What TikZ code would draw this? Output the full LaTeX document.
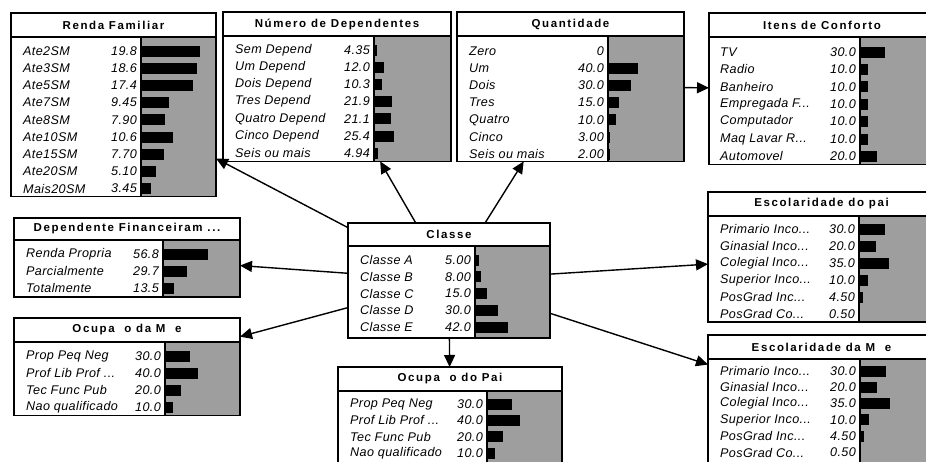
\documentclass[tikz,border=0pt]{standalone}
\usepackage{fontspec}
\setmainfont{Liberation Sans}
\newfontfamily\titlefont[LetterSpace=14]{Liberation Sans}
\newfontfamily\rowfont[LetterSpace=3]{Liberation Sans}
\usetikzlibrary{arrows.meta}

\begin{document}
\begin{tikzpicture}[x=1pt,y=-1pt,>={Triangle[length=12pt,width=11pt]},
  netbox/.style={draw,line width=1.3pt,anchor=north west,inner sep=0pt,outer sep=0pt},
  netline/.style={line width=1.3pt},
  nettitle/.style={font=\titlefont\bfseries\fontsize{11.5}{13}\selectfont,inner sep=0pt},
  rowlab/.style={anchor=west,font=\rowfont\itshape\fontsize{12.6}{15}\selectfont,inner sep=0pt},
  rowval/.style={anchor=east,font=\rowfont\itshape\fontsize{12.6}{15}\selectfont,inner sep=0pt},
  bararea/.style={fill=black!38},
  probbar/.style={fill=black},
  netarrow/.style={->,line width=1.4pt}]
\useasboundingbox (0,0) rectangle (926,461);
\clip (0,0) rectangle (926,461);

% Renda Familiar
\fill[bararea] (141,37) rectangle (216,196.8);
\foreach \lab/\val [count=\i from 0] in {Ate2SM/19.8,Ate3SM/18.6,Ate5SM/17.4,Ate7SM/9.45,Ate8SM/7.90,Ate10SM/10.6,Ate15SM/7.70,Ate20SM/5.10,Mais20SM/3.45}{
  \node[rowlab] (renda-l\i) at (23,{51+17.2*\i}) {\lab};
  \node[rowval] (renda-v\i) at (137,{51+17.2*\i}) {\val};
  \fill[probbar] (141,{45.5+17.2*\i}) rectangle ({141+3*\val},{56.5+17.2*\i});
}
\node[netbox,minimum width=205pt,minimum height=183.8pt] (renda) at (11,13) {};
\draw[netline] (11,37) -- (216,37) (141,37) -- (141,196.8);
\node[nettitle] (renda-t) at (113.5,25) {Renda Familiar};

% Numero de Dependentes
\fill[bararea] (374,36) rectangle (451,161.4);
\foreach \lab/\val [count=\i from 0] in {Sem Depend/4.35,Um Depend/12.0,Dois Depend/10.3,Tres Depend/21.9,Quatro Depend/21.1,Cinco Depend/25.4,Seis ou mais/4.94}{
  \node[rowlab] (numdep-l\i) at (235,{50+17.2*\i}) {\lab};
  \node[rowval] (numdep-v\i) at (370,{50+17.2*\i}) {\val};
  \fill[probbar] (374,{44.5+17.2*\i}) rectangle ({374+0.8*\val},{55.5+17.2*\i});
}
\node[netbox,minimum width=228pt,minimum height=149.4pt] (numdep) at (223,12) {};
\draw[netline] (223,36) -- (451,36) (374,36) -- (374,161.4);
\node[nettitle] (numdep-t) at (337,24) {Número de Dependentes};

% Quantidade
\fill[bararea] (608,36) rectangle (684,161.4);
\foreach \lab/\val [count=\i from 0] in {Zero/0,Um/40.0,Dois/30.0,Tres/15.0,Quatro/10.0,Cinco/3.00,Seis ou mais/2.00}{
  \node[rowlab] (quant-l\i) at (469,{51+17.2*\i}) {\lab};
  \node[rowval] (quant-v\i) at (604,{51+17.2*\i}) {\val};
  \fill[probbar] (608,{45.5+17.2*\i}) rectangle ({608+0.75*\val},{56.5+17.2*\i});
}
\node[netbox,minimum width=227pt,minimum height=149.4pt] (quant) at (457,12) {};
\draw[netline] (457,36) -- (684,36) (608,36) -- (608,161.4);
\node[nettitle] (quant-t) at (570.5,24) {Quantidade};

% Itens de Conforto
\fill[bararea] (860,37) rectangle (935,164.5);
\foreach \lab/\val [count=\i from 0] in {TV/30.0,Radio/10.0,Banheiro/10.0,Empregada F{.}{.}{.}/10.0,Computador/10.0,Maq Lavar R{.}{.}{.}/10.0,Automovel/20.0}{
  \node[rowlab] (itens-l\i) at (720,{52+17.4*\i}) {\lab};
  \node[rowval] (itens-v\i) at (856,{52+17.4*\i}) {\val};
  \fill[probbar] (860,{46.5+17.4*\i}) rectangle ({860+0.83*\val},{57.5+17.4*\i});
}
\node[netbox,minimum width=227pt,minimum height=151.5pt] (itens) at (709,13) {};
\draw[netline] (709,37) -- (935,37) (860,37) -- (860,164.5);
\node[nettitle] (itens-t) at (822,25) {Itens de Conforto};

% Dependente Financeiramente
\fill[bararea] (163,240) rectangle (240,297);
\foreach \lab/\val [count=\i from 0] in {Renda Propria/56.8,Parcialmente/29.7,Totalmente/13.5}{
  \node[rowlab] (depfin-l\i) at (26,{254+17.2*\i}) {\lab};
  \node[rowval] (depfin-v\i) at (159,{254+17.2*\i}) {\val};
  \fill[probbar] (163,{248.5+17.2*\i}) rectangle ({163+0.8*\val},{259.5+17.2*\i});
}
\node[netbox,minimum width=226pt,minimum height=79pt] (depfin) at (14,218) {};
\draw[netline] (14,240) -- (240,240) (163,240) -- (163,297);
\node[nettitle] (depfin-t) at (127,229) {Dependente Financeiram ...};

% Classe
\fill[bararea] (475,246) rectangle (550,338);
\foreach \lab/\val [count=\i from 0] in {Classe A/5.00,Classe B/8.00,Classe C/15.0,Classe D/30.0,Classe E/42.0}{
  \node[rowlab] (classe-l\i) at (360,{260+16.8*\i}) {\lab};
  \node[rowval] (classe-v\i) at (471,{260+16.8*\i}) {\val};
  \fill[probbar] (475,{254.5+16.8*\i}) rectangle ({475+0.78*\val},{265.5+16.8*\i});
}
\node[netbox,minimum width=202pt,minimum height=115pt] (classe) at (348,223) {};
\draw[netline] (348,246) -- (550,246) (475,246) -- (475,338);
\node[nettitle] (classe-t) at (449,234.5) {Classe};

% Escolaridade do pai
\fill[bararea] (859,216) rectangle (935,322);
\foreach \lab/\val [count=\i from 0] in {Primario Inco{.}{.}{.}/30.0,Ginasial Inco{.}{.}{.}/20.0,Colegial Inco{.}{.}{.}/35.0,Superior Inco{.}{.}{.}/10.0,PosGrad Inc{.}{.}{.}/4.50,PosGrad Co{.}{.}{.}/0.50}{
  \node[rowlab] (escpai-l\i) at (720,{229+17*\i}) {\lab};
  \node[rowval] (escpai-v\i) at (855,{229+17*\i}) {\val};
  \fill[probbar] (859,{223.5+17*\i}) rectangle ({859+0.85*\val},{234.5+17*\i});
}
\node[netbox,minimum width=227pt,minimum height=130pt] (escpai) at (708,192) {};
\draw[netline] (708,216) -- (935,216) (859,216) -- (859,322);
\node[nettitle] (escpai-t) at (821.5,204) {Escolaridade do pai};

% Ocupacao da Mae
\fill[bararea] (165,342) rectangle (240,415.8);
\foreach \lab/\val [count=\i from 0] in {Prop Peq Neg/30.0,Prof Lib Prof {.}{.}{.}/40.0,Tec Func Pub/20.0,Nao qualificado/10.0}{
  \node[rowlab] (ocmae-l\i) at (26,{356+17.2*\i}) {\lab};
  \node[rowval] (ocmae-v\i) at (161,{356+17.2*\i}) {\val};
  \fill[probbar] (165,{350.5+17.2*\i}) rectangle ({165+0.82*\val},{361.5+17.2*\i});
}
\node[netbox,minimum width=226pt,minimum height=97.8pt] (ocmae) at (14,318) {};
\draw[netline] (14,342) -- (240,342) (165,342) -- (165,415.8);
\node[nettitle] (ocmae-t) at (127,330) {Ocupa\ \ o da M\ \ e};

% Ocupacao do Pai
\fill[bararea] (487,391) rectangle (562,464.8);
\foreach \lab/\val [count=\i from 0] in {Prop Peq Neg/30.0,Prof Lib Prof {.}{.}{.}/40.0,Tec Func Pub/20.0,Nao qualificado/10.0}{
  \node[rowlab] (ocpai-l\i) at (350,{404+16.4*\i}) {\lab};
  \node[rowval] (ocpai-v\i) at (483,{404+16.4*\i}) {\val};
  \fill[probbar] (487,{398.5+16.4*\i}) rectangle ({487+0.82*\val},{409.5+16.4*\i});
}
\node[netbox,minimum width=224pt,minimum height=97.8pt] (ocpai) at (338,367) {};
\draw[netline] (338,391) -- (562,391) (487,391) -- (487,464.8);
\node[nettitle] (ocpai-t) at (450,379) {Ocupa\ \ o do Pai};

% Escolaridade da Mae
\fill[bararea] (860,359) rectangle (935,467.2);
\foreach \lab/\val [count=\i from 0] in {Primario Inco{.}{.}{.}/30.0,Ginasial Inco{.}{.}{.}/20.0,Colegial Inco{.}{.}{.}/35.0,Superior Inco{.}{.}{.}/10.0,PosGrad Inc{.}{.}{.}/4.50,PosGrad Co{.}{.}{.}/0.50}{
  \node[rowlab] (escmae-l\i) at (720,{371+16.3*\i}) {\lab};
  \node[rowval] (escmae-v\i) at (856,{371+16.3*\i}) {\val};
  \fill[probbar] (860,{365.5+16.3*\i}) rectangle ({860+0.85*\val},{376.5+16.3*\i});
}
\node[netbox,minimum width=227pt,minimum height=132.2pt] (escmae) at (708,335) {};
\draw[netline] (708,359) -- (935,359) (860,359) -- (860,467.2);
\node[nettitle] (escmae-t) at (821.5,347) {Escolaridade da M\ \ e};

% links
\draw[netarrow] (classe) -- (renda);
\draw[netarrow] (classe) -- (numdep);
\draw[netarrow] (classe) -- (quant);
\draw[netarrow] (quant) -- (itens);
\draw[netarrow] (classe) -- (depfin);
\draw[netarrow] (classe) -- (ocmae);
\draw[netarrow] (classe) -- (escpai);
\draw[netarrow] (classe) -- (escmae);
\draw[netarrow] (classe) -- (ocpai);
\end{tikzpicture}
\end{document}
